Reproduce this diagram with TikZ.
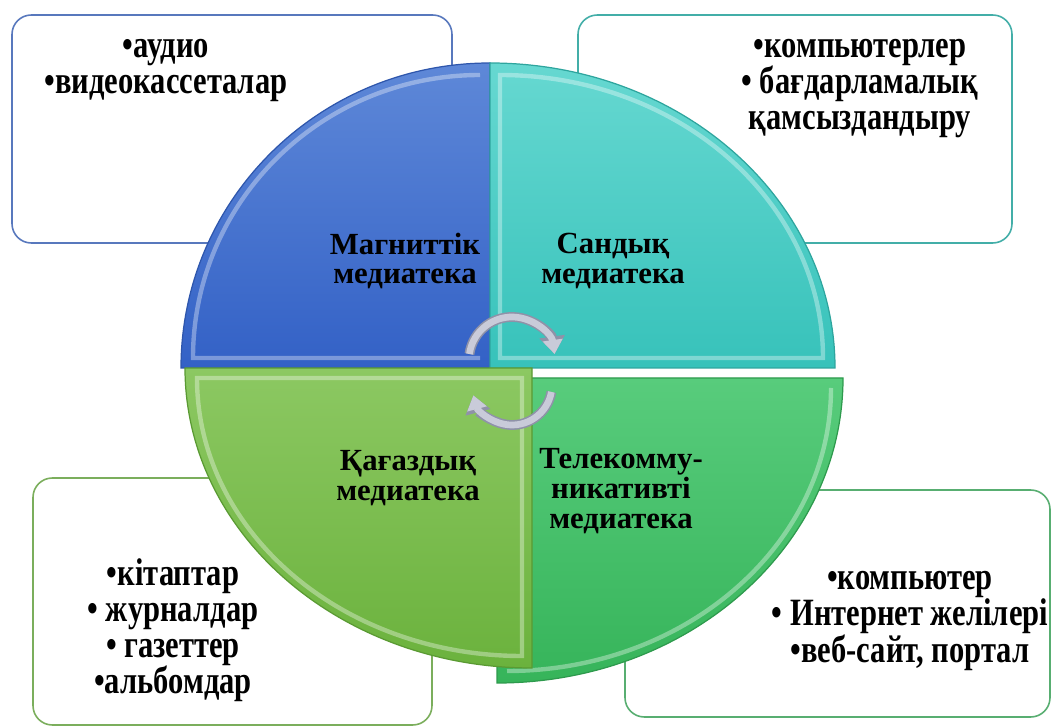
\documentclass[tikz,border=0pt]{standalone}
\usepackage{fontspec}
\setmainfont{Liberation Serif}
\newfontfamily\listfont{Liberation Serif}[FakeStretch=0.79]
\usetikzlibrary{arrows.meta}

\definecolor{magtop}{HTML}{5E88D8}
\definecolor{magbot}{HTML}{3361C6}
\definecolor{magline}{HTML}{2E56AC}
\definecolor{santop}{HTML}{66D8D1}
\definecolor{sanbot}{HTML}{37C2BA}
\definecolor{sanline}{HTML}{2EA59E}
\definecolor{kagtop}{HTML}{8CC862}
\definecolor{kagbot}{HTML}{6BB23D}
\definecolor{kagline}{HTML}{5A9A33}
\definecolor{teltop}{HTML}{58CC7C}
\definecolor{telbot}{HTML}{36B45A}
\definecolor{telline}{HTML}{2E9A4D}
\definecolor{turnfill}{HTML}{C9CBD9}
\definecolor{turnline}{HTML}{8F92A8}

\begin{document}
\begin{tikzpicture}[x=0.02cm,y=0.02cm,
  listbox/.style={rounded corners=11pt,line width=0.9pt,fill=white},
  quarter/.style={line width=0.7pt},
  bevel/.style={white,opacity=0.35,line width=2.5pt},
  label/.style={font=\fontsize{17.5}{17}\selectfont\bfseries,align=center,inner sep=0pt},
  listtext/.style={font=\listfont\fontsize{22}{20.5}\selectfont\bfseries,align=center,inner sep=0pt},
  turnback/.style={line width=5.6pt,turnline,-{Triangle[length=10pt,width=14pt]}},
  turnfront/.style={line width=3.8pt,turnfill,-{Triangle[length=8pt,width=11pt]}}]
\useasboundingbox (0,0) rectangle (1051,727);

% boxes
\draw[listbox,draw=magline!80] (12,484) rectangle (452,712);
\draw[listbox,draw=sanline!90] (578,484) rectangle (1012,712);
\draw[listbox,draw=kagline!80] (33,2) rectangle (432,249);
\draw[listbox,draw=telline!80] (625,10) rectangle (1050,237);

% quarters of the circle
\draw[quarter,draw=magline,top color=magtop,bottom color=magbot]
  (490,359) -- ++(-309,0) arc[start angle=180,end angle=90,x radius=309,y radius=305] -- cycle;
\draw[bevel] (480,369) -- ++(-287,0) arc[start angle=180,end angle=90,x radius=287,y radius=283];
\draw[quarter,draw=sanline,top color=santop,bottom color=sanbot]
  (490,359) -- ++(0,305) arc[start angle=90,end angle=0,x radius=345,y radius=305] -- cycle;
\draw[bevel] (500,652) arc[start angle=90,end angle=0,x radius=323,y radius=283] -- (500,369) -- cycle;
\draw[quarter,draw=telline,top color=teltop,bottom color=telbot]
  (497,349) -- ++(346,0) arc[start angle=0,end angle=-90,x radius=346,y radius=305] -- cycle;
\draw[bevel] (831,339) arc[start angle=0,end angle=-90,x radius=324,y radius=283];
\draw[quarter,draw=kagline,top color=kagtop,bottom color=kagbot]
  (532,359) -- ++(0,-300) arc[start angle=270,end angle=180,x radius=347,y radius=300] -- cycle;
\draw[bevel] (522,71) arc[start angle=270,end angle=180,x radius=325,y radius=278] -- (522,349) -- cycle;

% turning arrows
\coordinate (up) at (512,367);
\coordinate (down) at (512,342);
\draw[turnback] (up) ++(172:43) arc[start angle=172,end angle=8,radius=43];
\draw[turnfront] (up) ++(172:43) arc[start angle=172,end angle=8,radius=43];
\draw[turnback] (down) ++(-10:40) arc[start angle=-10,end angle=-165,radius=40];
\draw[turnfront] (down) ++(-10:40) arc[start angle=-10,end angle=-165,radius=40];

% labels
\node[label] (mag) at (405,466) {Магниттік\\медиатека};
\node[label] (san) at (613,466) {Сандық\\медиатека};
\node[label] (kag) at (408,249) {Қағаздық\\медиатека};
\node[label] (tel) at (621,236) {Телекомму-\\никативті\\медиатека};

\node[listtext] (magl) at (166,656) {•аудио\\•видеокассеталар};
\node[listtext] (sanl) at (860,638) {•компьютерлер\\• бағдарламалық\\қамсыздандыру};
\node[listtext] (kagl) at (173,97) {•кітаптар\\• журналдар\\• газеттер\\•альбомдар};
\node[listtext] (tell) at (910,106) {•компьютер\\• Интернет желілері\\•веб-сайт, портал};
\end{tikzpicture}
\end{document}
